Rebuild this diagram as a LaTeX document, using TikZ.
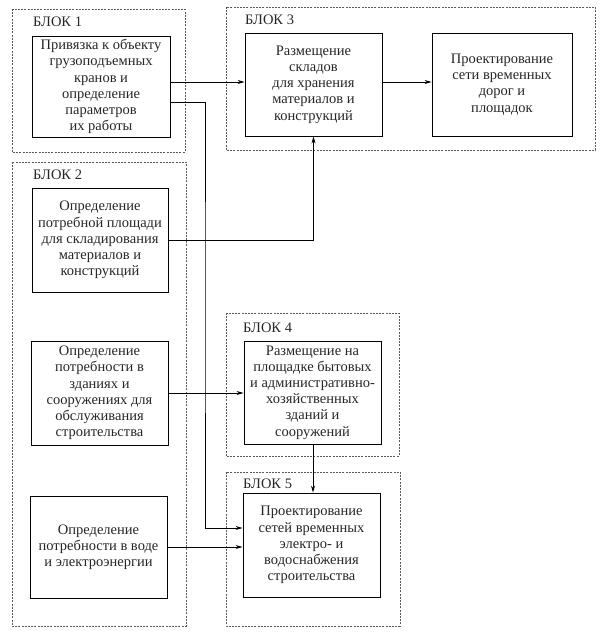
\documentclass[tikz,border=0pt]{standalone}
\usepackage{fontspec}
\setmainfont{Liberation Serif}
\usetikzlibrary{arrows.meta}
\tikzset{
  outerblk/.style={draw=black!65, line width=0.5pt, dash pattern=on 2pt off 1.2pt},
  inbox/.style={draw=black, line width=0.9pt, align=center, inner sep=0pt,
    font=\fontsize{14.5}{16.2}\selectfont, text=black!85},
  blklabel/.style={anchor=west, inner sep=0pt, font=\fontsize{14.5}{16}\selectfont, text=black!85},
  arr/.style={draw=black, line width=0.8pt, -{Stealth[length=7pt,width=4pt]}},
}
\begin{document}
\begin{tikzpicture}[x=1pt,y=-1pt]
\useasboundingbox (0,0) rectangle (604,637);
% outer dashed blocks
\draw[outerblk] (12,9) rectangle (185,152);
\draw[outerblk] (226,7) rectangle (595,150);
\draw[outerblk] (12,162) rectangle (186,626);
\draw[outerblk] (226,313) rectangle (399,456);
\draw[outerblk] (226,472) rectangle (400,626);
% labels
\node[blklabel] (l1) at (33,22) {БЛОК 1};
\node[blklabel] (l3) at (245,20) {БЛОК 3};
\node[blklabel] (l2) at (33,175) {БЛОК 2};
\node[blklabel] (l4) at (243,328) {БЛОК 4};
\node[blklabel] (l5) at (243,484) {БЛОК 5};
% inner boxes
\node[inbox, minimum width=138pt, minimum height=101pt] (b1) at (101,86.5)
  {Привязка к объекту\\грузоподъемных\\кранов и\\определение\\параметров\\их работы};
\node[inbox, minimum width=137pt, minimum height=103pt] (b3a) at (313.5,84.5)
  {Размещение\\складов\\для хранения\\материалов и\\конструкций};
\node[inbox, minimum width=140pt, minimum height=103pt] (b3b) at (502,84.5)
  {Проектирование\\сети временных\\дорог и\\площадок};
\node[inbox, minimum width=136pt, minimum height=104pt] (b2a) at (100,240)
  {Определение\\потребной площади\\для складирования\\материалов и\\конструкций};
\node[inbox, minimum width=137pt, minimum height=104pt] (b2b) at (99.5,393)
  {Определение\\потребности в\\зданиях и\\сооружениях для\\обслуживания\\строительства};
\node[inbox, minimum width=137pt, minimum height=102pt] (b2c) at (98.5,547)
  {Определение\\потребности в воде\\и электроэнергии};
\node[inbox, minimum width=137pt, minimum height=103pt] (b4) at (312.5,392.5)
  {Размещение на\\площадке бытовых\\и административно-\\хозяйственных\\зданий и\\сооружений};
\node[inbox, minimum width=137pt, minimum height=104pt] (b5) at (311.5,545)
  {Проектирование\\сетей временных\\электро- и\\водоснабжения\\строительства};
% connectors
\coordinate (v1) at (205,300);
\draw[arr] ([yshift=4.5pt]b1.east) -- ([yshift=4.5pt]b1.east -| b3a.west);
\draw[arr] ([yshift=-15.5pt]b1.east) -| (v1) |- ([yshift=17pt]b5.west);
\draw[arr] (b2a.east) -| (b3a.south);
\draw[arr] ([yshift=2.5pt]b3a.east) -- ([yshift=2.5pt]b3a.east -| b3b.west);
\draw[arr] (b2b.east) -- (b2b.east -| b4.west);
\draw[arr] ([xshift=0.5pt]b4.south) -- ([xshift=0.5pt]b4.south |- b5.north);
\draw[arr] (b2c.east) -- (b2c.east -| b5.west);
\end{tikzpicture}
\end{document}
